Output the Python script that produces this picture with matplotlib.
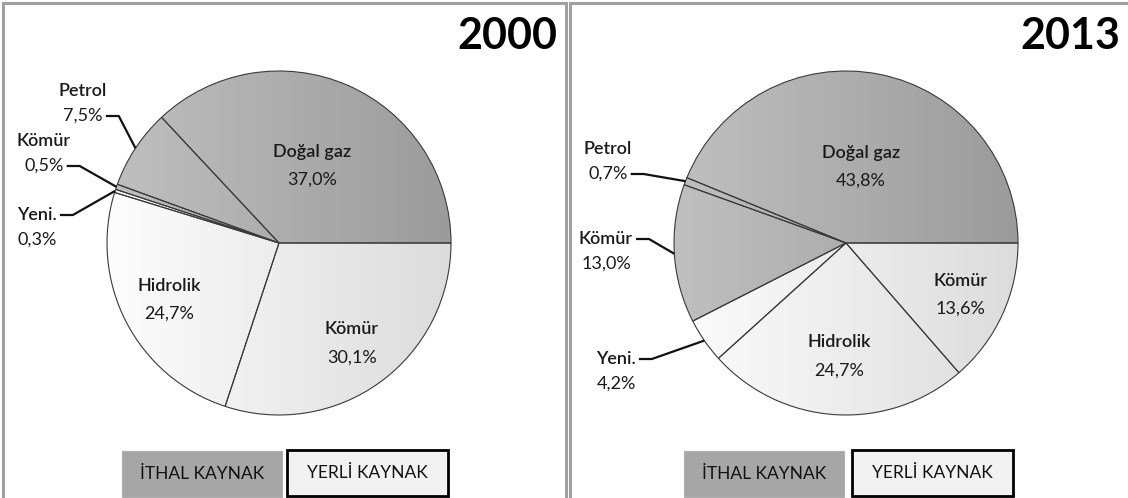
import matplotlib.pyplot as plt
import numpy as np
from matplotlib.patches import Rectangle
from matplotlib.colors import LinearSegmentedColormap

plt.rcParams['font.family'] = ['Lato', 'DejaVu Sans']

# data
names = ['Doğal gaz', 'Petrol', 'Kömür', 'Yeni.', 'Hidrolik', 'Kömür']
source = ['ithal', 'ithal', 'ithal', 'yerli', 'yerli', 'yerli']
years = ['2000', '2013']
share_2000 = [37.0, 7.5, 0.5, 0.3, 24.7, 30.1]
share_2013 = [43.8, 0.7, 13.0, 4.2, 24.7, 13.6]
legend_labels = ['İTHAL KAYNAK', 'YERLİ KAYNAK']

W, H = 1128, 498
R = 172
# layout of each panel (pixel units, y measured from the top)
panels = [
    dict(x0=3, x1=566, cx=279, cy=243, title_x=557, boxes=(122, 287)),
    dict(x0=570, x1=1131, cx=846, cy=243, title_x=1120, boxes=(684, 852)),
]
# label placement: inside -> fraction of radius, outside -> offset from centre
inside_r = [
    {0: 0.49, 4: 0.72, 5: 0.72},
    {0: 0.45, 4: 0.66, 5: 0.73},
]
outside_off = [
    {1: (-196, 140, 'bottom'), 2: (-235, 90, 'bottom'), 3: (-242, 16, 'top')},
    {1: (-238, 82, 'bottom'), 2: (-240, -8, 'top'), 3: (-230, -128, 'top')},
]
grad_cols = {'ithal': ['#c0c0c0', '#9b9b9b'], 'yerli': ['#fdfdfd', '#dcdcdc']}

fig = plt.figure(figsize=(W / 100, H / 100), dpi=100)
ax = fig.add_axes([0, 0, 1, 1])


def pct(v):
    return f'{v:.1f}%'.replace('.', ',')


grad = np.linspace(0, 1, 256).reshape(1, -1)
pending = []
for k, (year, vals) in enumerate(zip(years, [share_2000, share_2013])):
    p = panels[k]
    cx, cy = p['cx'], H - p['cy']
    ax.add_patch(Rectangle((p['x0'], -20), p['x1'] - p['x0'], H - 3 + 20,
                           fill=False, edgecolor='#a0a0a0', lw=2.2, zorder=0))
    wedges, _ = ax.pie(vals, startangle=0, counterclock=True, center=(cx, cy),
                       radius=R, frame=True,
                       wedgeprops=dict(facecolor='none', edgecolor='#3a3a3a', linewidth=0.8))
    for i, w in enumerate(wedges):
        w.set_zorder(3)
        cmap = LinearSegmentedColormap.from_list('g', grad_cols[source[i]])
        im = ax.imshow(grad, cmap=cmap, extent=(cx - R, cx + R, cy - R, cy + R),
                       aspect='auto', zorder=2, interpolation='bilinear')
        im.set_clip_path(w)
        mid = np.deg2rad((w.theta1 + w.theta2) / 2)
        if i in inside_r[k]:
            f = inside_r[k][i] * R
            tx, ty = cx + f * np.cos(mid), cy + f * np.sin(mid)
            ax.text(tx, ty + 14, names[i], ha='center', va='center', fontsize=13,
                    fontweight='semibold', color='#1a1a1a', zorder=5)
            ax.text(tx, ty - 14, pct(vals[i]), ha='center', va='center', fontsize=13,
                    color='#1a1a1a', zorder=5)
        else:
            dx, dy, attach = outside_off[k][i]
            tx, ty = cx + dx, cy + dy
            t1 = ax.text(tx, ty + 12, names[i], ha='center', va='center', fontsize=13,
                         fontweight='semibold', color='#1a1a1a', zorder=5)
            t2 = ax.text(tx, ty - 13, pct(vals[i]), ha='center', va='center', fontsize=13,
                         color='#1a1a1a', zorder=5)
            ex, ey = cx + R * np.cos(mid), cy + R * np.sin(mid)
            pending.append((t1 if attach == 'top' else t2, ex, ey))
    ax.text(p['title_x'], H - 36, year, ha='right', va='center', fontsize=31,
            fontweight='bold', color='black')
    # legend boxes
    b1, b2 = p['boxes']
    ax.add_patch(Rectangle((b1, 1), 160, 46, facecolor='#a6a6a6', edgecolor='#b0b0b0',
                           lw=0.8, zorder=3))
    ax.add_patch(Rectangle((b2, 2), 161, 46, facecolor='#f2f2f2', edgecolor='black',
                           lw=2, zorder=3))
    ax.text(b1 + 80, 24, legend_labels[0], ha='center', va='center', fontsize=12.5,
            color='#111111', zorder=4)
    ax.text(b2 + 80, 25, legend_labels[1], ha='center', va='center', fontsize=12.5,
            color='#111111', zorder=4)

ax.set_xlim(0, W)
ax.set_ylim(0, H)
ax.set_aspect('auto')
ax.axis('off')

# leader lines for the small slices
fig.canvas.draw()
inv = ax.transData.inverted()
for t, ex, ey in pending:
    bb = t.get_window_extent()
    (x0, y0), (x1, y1) = inv.transform([(bb.x0, bb.y0), (bb.x1, bb.y1)])
    sx, sy = x1 + 3, (y0 + y1) / 2
    ax.plot([sx, sx + 13, ex], [sy, sy, ey], color='#111111', lw=1.6, zorder=6,
            solid_capstyle='butt')

fig.savefig('out.png', dpi=100)
